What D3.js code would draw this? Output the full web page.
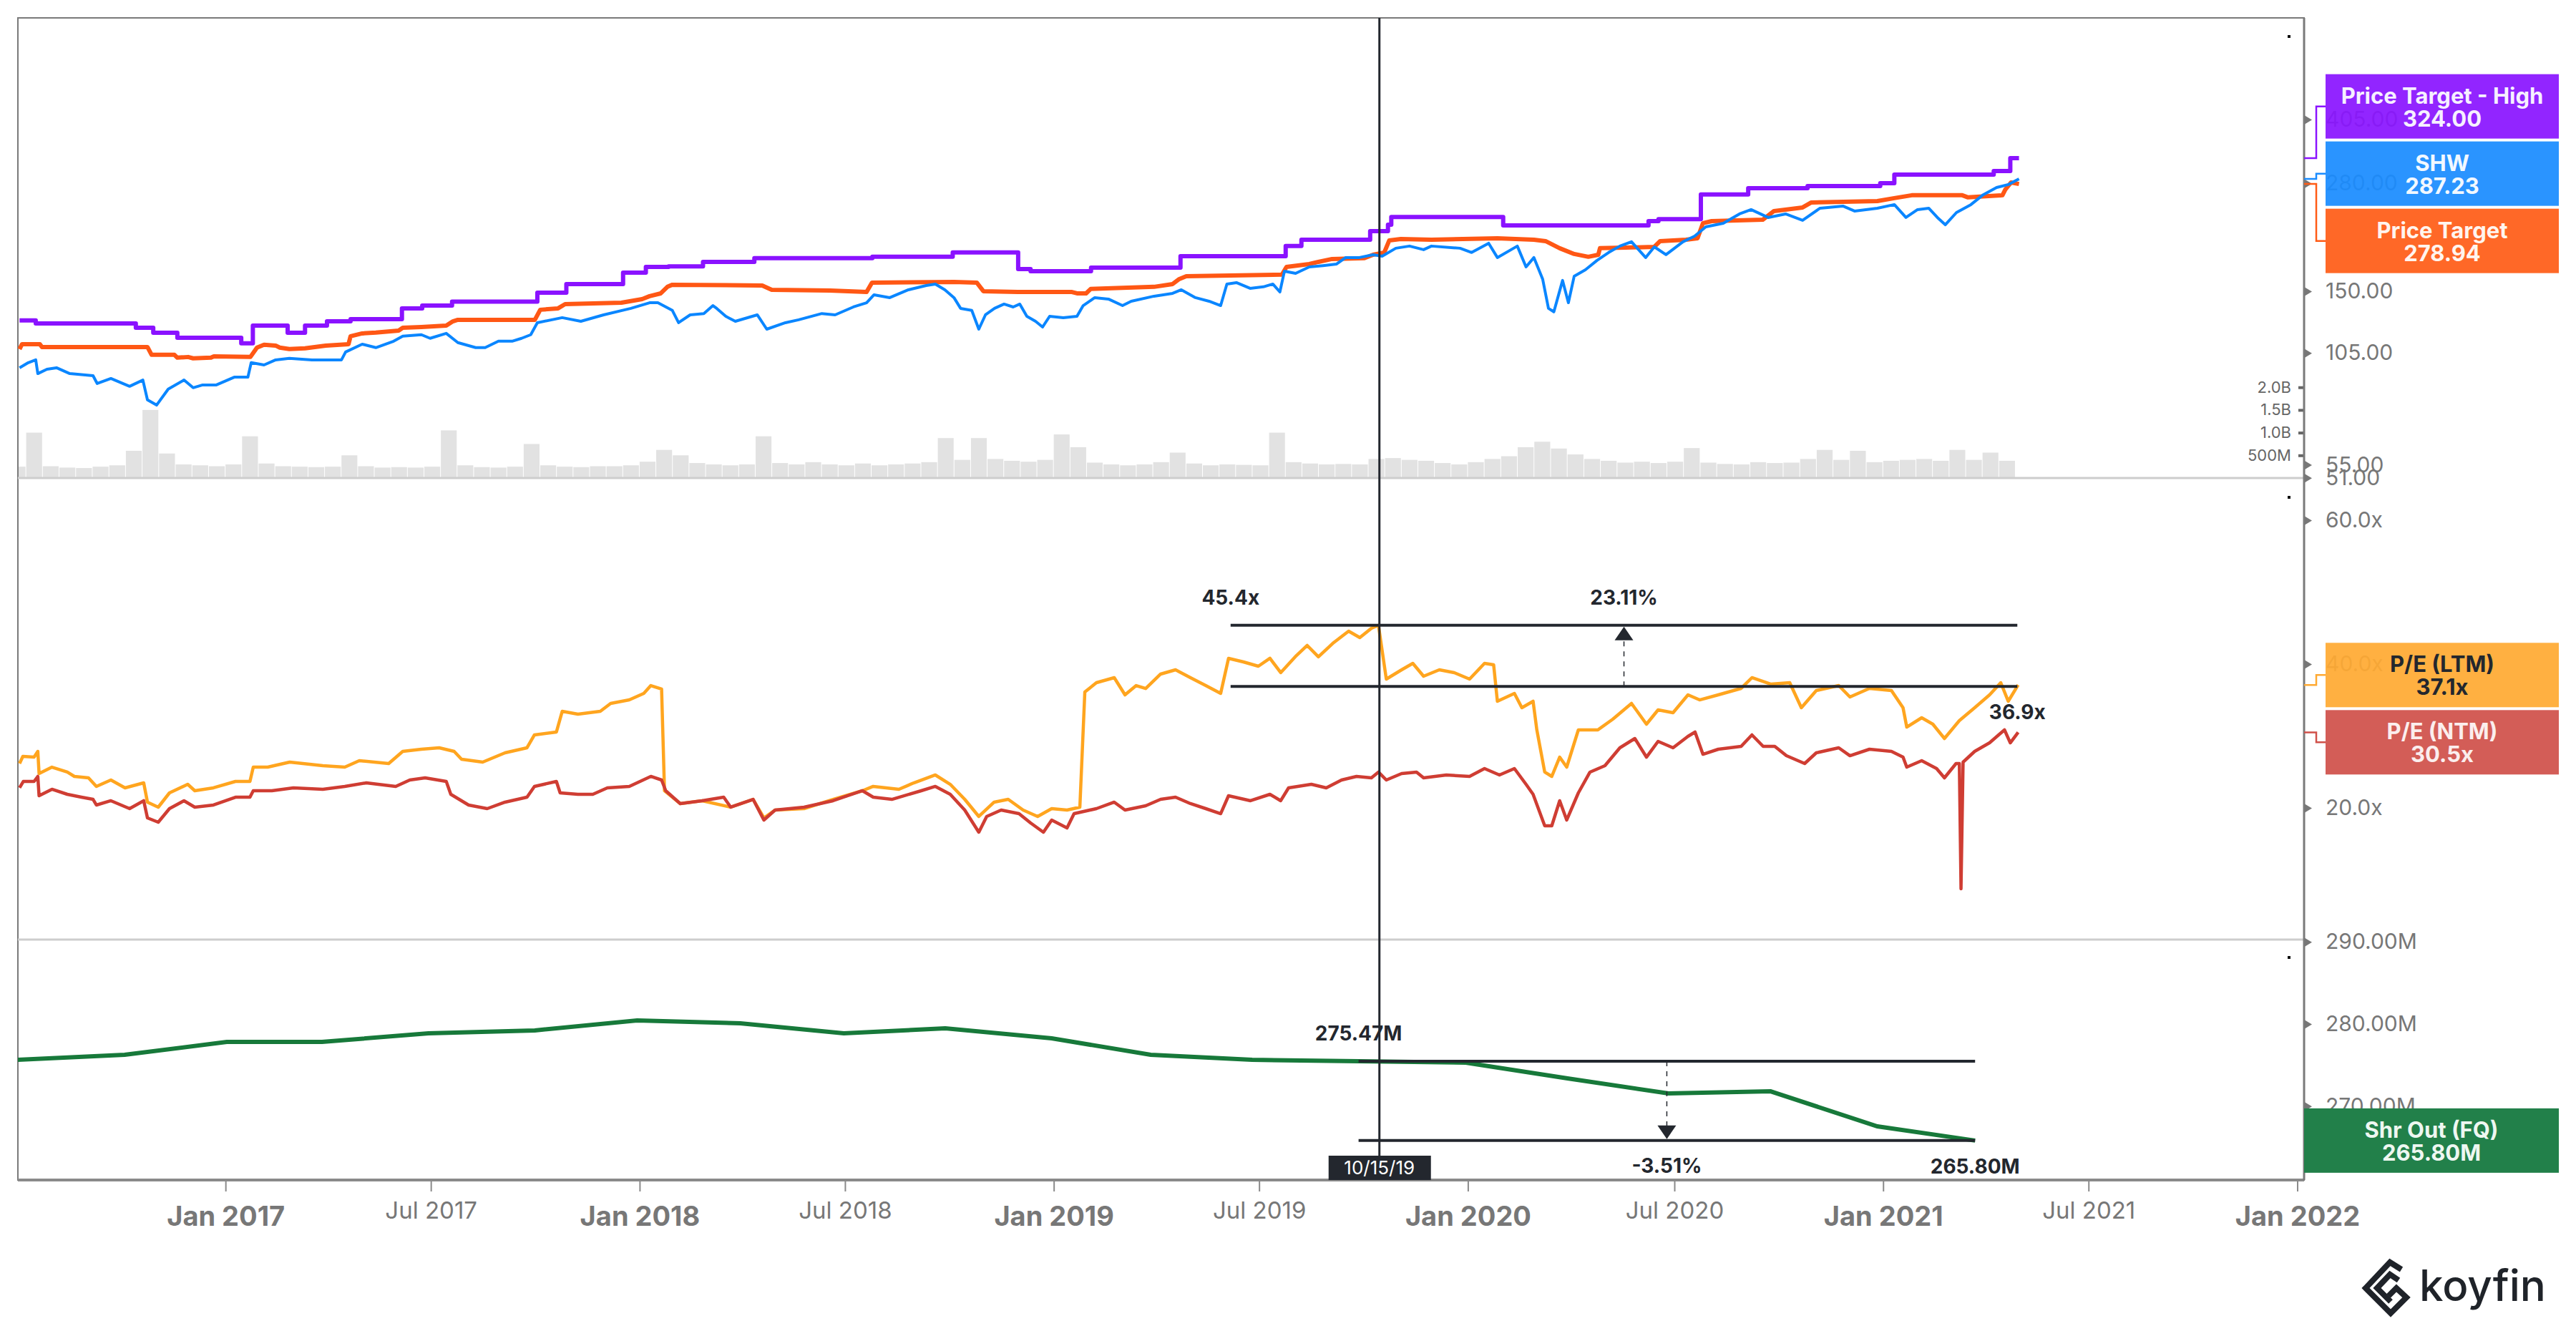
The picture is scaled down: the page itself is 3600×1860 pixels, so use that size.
<!DOCTYPE html>
<html><head><meta charset="utf-8">
<script src="https://cdn.jsdelivr.net/npm/d3@7"></script>
<style>html,body{margin:0;padding:0;background:#fff;}svg{display:block;font-family:Inter,"Noto Sans",sans-serif;}</style>
</head><body><svg id="c" width="3600" height="1860"></svg>
<script>
// ---------------- DATA (dates as decimal years) ----------------
const shwPrice = [[2016.504,96.4],[2016.525,99.3],[2016.543,100.9],[2016.548,93.2],[2016.570,95.6],[2016.593,96.4],[2016.625,93.2],[2016.681,92.1],[2016.691,88.0],[2016.724,90.6],[2016.769,86.6],[2016.801,89.8],[2016.812,80.1],[2016.834,77.7],[2016.862,85.2],[2016.900,89.8],[2016.922,85.9],[2016.945,87.3],[2016.978,87.3],[2017.021,91.3],[2017.054,91.3],[2017.062,99.3],[2017.093,98.0],[2017.121,100.9],[2017.154,101.8],[2017.209,100.9],[2017.252,100.9],[2017.280,100.9],[2017.290,105.6],[2017.330,110.5],[2017.363,108.3],[2017.406,112.4],[2017.428,115.7],[2017.473,116.7],[2017.494,114.3],[2017.533,117.6],[2017.561,111.5],[2017.604,108.3],[2017.627,108.3],[2017.659,112.4],[2017.692,112.4],[2017.715,114.3],[2017.737,116.7],[2017.753,125.1],[2017.813,128.8],[2017.858,126.1],[2017.913,130.9],[2017.979,135.9],[2018.024,140.4],[2018.044,140.4],[2018.079,134.3],[2018.094,125.1],[2018.122,130.9],[2018.155,131.9],[2018.177,138.1],[2018.186,135.9],[2018.208,129.8],[2018.231,126.1],[2018.284,130.9],[2018.307,120.5],[2018.352,125.1],[2018.384,127.2],[2018.440,131.9],[2018.472,130.9],[2018.516,137.0],[2018.548,140.4],[2018.566,147.0],[2018.604,144.6],[2018.649,151.3],[2018.692,155.1],[2018.714,156.4],[2018.737,151.3],[2018.759,144.6],[2018.775,135.9],[2018.802,134.3],[2018.819,120.5],[2018.835,130.9],[2018.857,135.9],[2018.880,139.3],[2018.902,137.0],[2018.918,139.3],[2018.935,129.8],[2018.956,126.1],[2018.973,122.0],[2018.990,129.8],[2019.023,128.8],[2019.056,129.8],[2019.071,138.1],[2019.099,144.6],[2019.132,143.4],[2019.166,138.1],[2019.187,141.6],[2019.242,145.8],[2019.287,148.2],[2019.308,151.3],[2019.342,144.6],[2019.375,141.6],[2019.403,138.1],[2019.418,156.4],[2019.441,157.7],[2019.474,152.6],[2019.506,153.9],[2019.529,156.4],[2019.546,149.4],[2019.557,168.5],[2019.584,166.4],[2019.617,172.7],[2019.650,174.0],[2019.683,175.6],[2019.705,182.3],[2019.738,182.3],[2019.771,185.3],[2019.793,183.8],[2019.826,192.4],[2019.859,194.8],[2019.893,190.8],[2019.912,194.8],[2019.981,192.4],[2020.009,187.7],[2020.050,198.0],[2020.071,182.3],[2020.119,194.8],[2020.140,172.7],[2020.159,182.3],[2020.180,161.0],[2020.194,135.9],[2020.207,133.2],[2020.228,159.7],[2020.242,140.4],[2020.256,163.7],[2020.283,169.9],[2020.311,179.3],[2020.339,187.7],[2020.366,194.8],[2020.394,199.7],[2020.428,182.3],[2020.449,193.9],[2020.477,185.3],[2020.518,199.7],[2020.546,206.3],[2020.573,217.7],[2020.615,222.2],[2020.654,234.6],[2020.682,240.5],[2020.723,229.8],[2020.765,234.6],[2020.806,226.0],[2020.848,242.5],[2020.903,245.5],[2020.931,238.5],[2020.986,242.5],[2021.027,247.6],[2021.055,229.8],[2021.083,240.5],[2021.110,242.5],[2021.131,229.8],[2021.150,220.4],[2021.177,236.5],[2021.212,247.6],[2021.240,261.3],[2021.274,273.3],[2021.302,278.0],[2021.328,287.23]];

const priceTarget = [[2016.504,107.4],[2016.510,110.5],[2016.553,110.5],[2016.558,108.7],[2016.812,108.7],[2016.822,103.9],[2016.877,103.9],[2016.884,102.2],[2016.910,102.6],[2016.922,101.8],[2016.965,102.2],[2016.972,103.0],[2017.060,102.6],[2017.076,108.3],[2017.093,110.1],[2017.121,109.6],[2017.131,108.3],[2017.154,107.4],[2017.192,107.9],[2017.242,109.6],[2017.297,110.5],[2017.302,115.7],[2017.330,117.6],[2017.363,118.1],[2017.418,119.5],[2017.428,121.5],[2017.473,122.0],[2017.533,123.0],[2017.549,126.1],[2017.561,127.2],[2017.747,127.2],[2017.760,134.8],[2017.803,135.9],[2017.820,139.3],[2017.956,140.4],[2018.006,143.4],[2018.024,145.8],[2018.051,148.2],[2018.067,153.9],[2018.079,155.8],[2018.296,155.1],[2018.319,151.3],[2018.460,150.7],[2018.548,149.4],[2018.561,157.7],[2018.759,158.3],[2018.814,157.7],[2018.830,150.1],[2018.913,149.4],[2019.044,149.4],[2019.056,148.2],[2019.078,148.2],[2019.089,152.0],[2019.242,153.9],[2019.287,156.4],[2019.303,161.0],[2019.320,163.7],[2019.551,165.1],[2019.562,172.7],[2019.617,175.6],[2019.639,177.8],[2019.672,180.8],[2019.750,181.6],[2019.771,185.3],[2019.798,187.7],[2019.810,201.2],[2019.838,202.9],[2019.912,202.1],[2020.071,203.7],[2020.159,202.1],[2020.187,200.5],[2020.221,192.4],[2020.256,186.1],[2020.290,183.1],[2020.314,185.3],[2020.318,192.4],[2020.380,193.1],[2020.449,193.9],[2020.463,200.5],[2020.525,202.1],[2020.553,203.7],[2020.566,222.3],[2020.587,225.0],[2020.710,226.8],[2020.737,238.5],[2020.806,243.5],[2020.827,250.7],[2020.986,252.7],[2021.027,257.0],[2021.069,261.3],[2021.191,261.3],[2021.205,258.1],[2021.233,259.2],[2021.288,261.3],[2021.295,270.0],[2021.309,281.4],[2021.328,278.94]];

const priceTargetHigh = [[2016.504,126.7],[2016.543,124.6],[2016.784,121.5],[2016.826,118.0],[2016.884,114.7],[2017.038,111.0],[2017.066,123.0],[2017.150,118.0],[2017.192,123.0],[2017.245,126.1],[2017.302,127.7],[2017.426,135.9],[2017.475,138.1],[2017.547,141.3],[2017.753,148.8],[2017.823,156.4],[2017.960,167.1],[2018.015,172.7],[2018.070,173.3],[2018.153,177.8],[2018.277,181.6],[2018.562,183.1],[2018.756,187.7],[2018.914,170.6],[2018.944,168.5],[2019.090,172.0],[2019.306,183.8],[2019.560,194.8],[2019.598,202.1],[2019.764,212.4],[2019.807,220.4],[2019.815,230.4],[2020.085,219.6],[2020.435,225.0],[2020.459,227.7],[2020.561,262.4],[2020.675,272.2],[2020.818,275.6],[2020.993,280.3],[2021.027,294.5],[2021.267,300.6],[2021.307,324.0],[2021.328,324.0]];

const volumeM = [[2016.50,250],[2016.54,1000],[2016.58,260],[2016.62,230],[2016.66,220],[2016.70,250],[2016.74,280],[2016.78,600],[2016.82,1500],[2016.86,540],[2016.90,300],[2016.94,280],[2016.98,260],[2017.02,300],[2017.06,920],[2017.10,320],[2017.14,260],[2017.18,250],[2017.22,240],[2017.26,250],[2017.30,500],[2017.34,260],[2017.38,230],[2017.42,240],[2017.46,230],[2017.50,250],[2017.54,1050],[2017.58,280],[2017.62,240],[2017.66,230],[2017.70,250],[2017.74,750],[2017.78,280],[2017.82,250],[2017.86,240],[2017.90,260],[2017.94,260],[2017.98,280],[2018.02,360],[2018.06,620],[2018.10,500],[2018.14,330],[2018.18,300],[2018.22,280],[2018.26,300],[2018.30,920],[2018.34,330],[2018.38,300],[2018.42,350],[2018.46,300],[2018.50,280],[2018.54,320],[2018.58,280],[2018.62,300],[2018.66,320],[2018.70,350],[2018.74,880],[2018.78,400],[2018.82,880],[2018.86,420],[2018.90,380],[2018.94,360],[2018.98,400],[2019.02,960],[2019.06,680],[2019.10,340],[2019.14,300],[2019.18,280],[2019.22,300],[2019.26,350],[2019.30,560],[2019.34,320],[2019.38,280],[2019.42,300],[2019.46,290],[2019.50,280],[2019.54,1000],[2019.58,350],[2019.62,320],[2019.66,300],[2019.70,310],[2019.74,300],[2019.78,420],[2019.82,440],[2019.86,400],[2019.90,380],[2019.94,330],[2019.98,300],[2020.02,350],[2020.06,420],[2020.10,480],[2020.14,680],[2020.18,800],[2020.22,650],[2020.26,520],[2020.30,420],[2020.34,380],[2020.38,340],[2020.42,360],[2020.46,330],[2020.50,360],[2020.54,660],[2020.58,340],[2020.62,310],[2020.66,300],[2020.70,350],[2020.74,330],[2020.78,340],[2020.82,420],[2020.86,620],[2020.90,400],[2020.94,600],[2020.98,350],[2021.02,380],[2021.06,400],[2021.10,420],[2021.14,380],[2021.18,620],[2021.22,400],[2021.26,560],[2021.30,380]];

const peLTM = [[2016.504,26.17],[2016.512,27.16],[2016.539,27.06],[2016.548,27.86],[2016.551,24.78],[2016.582,25.67],[2016.619,24.98],[2016.636,24.38],[2016.670,24.18],[2016.689,22.99],[2016.724,23.88],[2016.758,22.79],[2016.803,23.48],[2016.812,20.80],[2016.838,20.10],[2016.865,22.09],[2016.909,23.28],[2016.926,22.39],[2016.971,22.79],[2017.024,23.68],[2017.059,23.68],[2017.067,25.67],[2017.102,25.67],[2017.155,26.37],[2017.235,25.87],[2017.288,25.67],[2017.323,26.57],[2017.394,26.17],[2017.428,27.86],[2017.473,28.16],[2017.516,28.36],[2017.552,27.86],[2017.570,26.77],[2017.621,26.37],[2017.675,27.66],[2017.728,28.36],[2017.746,30.15],[2017.799,30.55],[2017.813,33.43],[2017.851,33.03],[2017.905,33.43],[2017.930,34.53],[2017.975,35.02],[2018.010,35.92],[2018.027,37.01],[2018.053,36.52],[2018.060,22.39],[2018.098,20.60],[2018.151,21.00],[2018.220,20.10],[2018.274,21.19],[2018.300,18.61],[2018.327,19.70],[2018.397,19.90],[2018.467,21.19],[2018.538,22.39],[2018.564,22.99],[2018.626,22.59],[2018.662,23.48],[2018.714,24.58],[2018.750,23.28],[2018.785,21.19],[2018.819,18.81],[2018.856,20.80],[2018.890,21.19],[2018.926,19.70],[2018.961,18.81],[2018.995,19.90],[2019.032,19.70],[2019.063,20.10],[2019.075,36.12],[2019.103,37.41],[2019.146,38.11],[2019.172,35.72],[2019.199,37.01],[2019.222,36.6],[2019.258,38.61],[2019.294,39.20],[2019.330,38.11],[2019.367,37.01],[2019.403,35.92],[2019.422,40.80],[2019.458,40.30],[2019.494,39.70],[2019.522,40.80],[2019.548,38.81],[2019.586,41.19],[2019.612,42.59],[2019.639,41.00],[2019.676,42.99],[2019.712,44.58],[2019.739,43.68],[2019.767,44.98],[2019.784,45.4],[2019.803,37.91],[2019.840,39.20],[2019.867,40.10],[2019.893,38.31],[2019.931,39.20],[2019.967,38.81],[2020.004,37.91],[2020.040,40.10],[2020.062,39.90],[2020.071,34.83],[2020.112,35.92],[2020.130,33.93],[2020.157,34.83],[2020.166,30.85],[2020.185,24.98],[2020.202,24.38],[2020.221,27.06],[2020.238,25.67],[2020.266,30.85],[2020.313,30.85],[2020.349,32.34],[2020.394,34.53],[2020.430,31.64],[2020.458,33.63],[2020.494,33.23],[2020.530,35.72],[2020.558,35.02],[2020.603,35.72],[2020.658,36.62],[2020.684,38.11],[2020.730,37.21],[2020.775,37.41],[2020.803,33.93],[2020.839,36.32],[2020.893,37.01],[2020.920,35.42],[2020.967,36.62],[2021.020,36.32],[2021.048,33.93],[2021.057,31.24],[2021.093,32.54],[2021.120,31.64],[2021.148,29.65],[2021.184,32.14],[2021.221,33.93],[2021.257,35.72],[2021.284,37.41],[2021.302,34.83],[2021.326,37.1]];

const peNTM = [[2016.504,22.79],[2016.513,23.68],[2016.539,23.68],[2016.548,24.38],[2016.551,21.69],[2016.582,22.59],[2016.619,21.89],[2016.653,21.49],[2016.681,21.19],[2016.689,20.40],[2016.724,21.00],[2016.769,19.90],[2016.803,21.00],[2016.812,18.61],[2016.838,18.01],[2016.865,19.90],[2016.900,21.00],[2016.926,20.10],[2016.971,20.40],[2017.024,21.49],[2017.059,21.49],[2017.067,22.39],[2017.112,22.39],[2017.164,22.79],[2017.235,22.59],[2017.288,22.99],[2017.340,23.48],[2017.411,22.99],[2017.445,23.88],[2017.482,24.18],[2017.533,23.68],[2017.544,21.89],[2017.587,20.40],[2017.632,19.90],[2017.675,20.80],[2017.728,21.49],[2017.746,22.99],[2017.799,23.68],[2017.808,22.09],[2017.851,21.89],[2017.887,21.89],[2017.922,22.79],[2017.975,22.99],[2018.027,24.38],[2018.053,23.88],[2018.063,22.39],[2018.098,20.60],[2018.151,21.00],[2018.203,21.49],[2018.220,20.10],[2018.274,21.19],[2018.300,18.31],[2018.327,19.70],[2018.397,20.10],[2018.467,21.00],[2018.538,22.39],[2018.564,21.49],[2018.609,21.19],[2018.680,22.39],[2018.714,22.99],[2018.750,21.89],[2018.785,19.70],[2018.819,16.62],[2018.838,18.81],[2018.873,19.70],[2018.916,19.20],[2018.944,17.91],[2018.975,16.62],[2018.995,18.31],[2019.032,17.21],[2019.049,19.20],[2019.103,19.90],[2019.146,20.80],[2019.172,19.70],[2019.222,20.30],[2019.258,21.19],[2019.294,21.49],[2019.330,20.60],[2019.367,19.90],[2019.403,19.20],[2019.422,21.69],[2019.475,21.00],[2019.522,21.89],[2019.548,21.00],[2019.567,22.79],[2019.622,23.28],[2019.658,22.79],[2019.695,23.88],[2019.731,24.38],[2019.767,24.18],[2019.784,24.98],[2019.803,23.88],[2019.840,24.78],[2019.876,24.98],[2019.893,24.18],[2019.948,24.58],[2020.004,24.38],[2020.040,25.47],[2020.076,24.58],[2020.112,25.47],[2020.140,23.28],[2020.157,21.89],[2020.185,17.51],[2020.202,17.51],[2020.221,21.00],[2020.238,18.31],[2020.266,22.09],[2020.294,24.98],[2020.330,25.87],[2020.366,28.36],[2020.402,29.65],[2020.430,27.06],[2020.458,29.25],[2020.494,28.36],[2020.530,29.95],[2020.547,30.55],[2020.566,27.46],[2020.603,28.16],[2020.658,28.56],[2020.684,30.15],[2020.711,28.56],[2020.739,28.56],[2020.767,27.26],[2020.811,26.17],[2020.839,27.66],[2020.893,28.36],[2020.920,27.26],[2020.967,28.16],[2021.020,27.86],[2021.048,27.06],[2021.057,25.67],[2021.093,26.57],[2021.129,25.47],[2021.148,24.18],[2021.176,26.17],[2021.184,26.17],[2021.188,8.76],[2021.193,26.37],[2021.221,27.86],[2021.257,29.05],[2021.293,30.85],[2021.307,29.05],[2021.326,30.5]];

const sharesOut = [[2016.499,275.64],[2016.757,276.25],[2017.003,277.82],[2017.233,277.82],[2017.490,278.87],[2017.747,279.22],[2017.994,280.44],[2018.243,280.09],[2018.493,278.87],[2018.738,279.48],[2018.995,278.26],[2019.234,276.25],[2019.479,275.64],[2019.736,275.47],[2019.995,275.29],[2020.240,273.37],[2020.483,271.54],[2020.729,271.80],[2020.986,267.53],[2021.222,265.80]];

const xTickDates = ["2017-01-01","2017-07-01","2018-01-01","2018-07-01","2019-01-01","2019-07-01","2020-01-01","2020-07-01","2021-01-01","2021-07-01","2022-01-01"];
const xTickLabels = ["Jan 2017","Jul 2017","Jan 2018","Jul 2018","Jan 2019","Jul 2019","Jan 2020","Jul 2020","Jan 2021","Jul 2021","Jan 2022"];
const priceTicks = [405, 280, 150, 105, 55, 51];
const volTicks = [500, 1000, 1500, 2000];
const volTickLabels = ["500M", "1.0B", "1.5B", "2.0B"];
const peTicks = [60, 40, 20];
const shrTicks = [290, 280, 270];

const crosshairDate = "2019-10-15";
const crosshairLabel = "10/15/19";
const peMeasureDates = [2019.427, 2021.324];
const peMeasureValues = [45.4, 36.9];
const peMeasureLabels = ["45.4x", "23.11%", "36.9x"];
const shrMeasureDates = [2019.736, 2021.222];
const shrMeasureValues = [275.47, 265.80];
const shrMeasureLabels = ["275.47M", "-3.51%", "265.80M"];

// ---------------- LAYOUT ----------------
const L = 25, R = 3220, T = 25, B = 1649;
const P1 = 668, P2 = 1313;
const DARK = "#23272e", AX = "#777";
const svg = d3.select("#c");
const toDate = t => { const y = Math.floor(t); const a = Date.UTC(y,0,1), b = Date.UTC(y+1,0,1); return new Date(a + (t-y)*(b-a)); };
const x = d3.scaleUtc().domain([new Date(Date.UTC(2016,6,2)), new Date(Date.UTC(2022,0,7))]).range([L, R]);
const yPrice = d3.scaleLog().domain([50.97, 728.5]).range([P1, T]);
const yVol = d3.scaleLinear().domain([0, 2000]).range([P1, P1 - 126.8]);
const yPE = d3.scaleLinear().domain([1.692, 65.87]).range([P2, P1]);
const yShr = d3.scaleLinear().domain([261.08, 290.29]).range([B - 1, P2]);

const defs = svg.append("defs");
[["c1", T, P1], ["c2", P1, P2], ["c3", P2, B]].forEach(([id, a, b]) => {
  defs.append("clipPath").attr("id", id).append("rect").attr("x", L).attr("y", a).attr("width", R - L).attr("height", b - a);
});

// volume bars
const gVol = svg.append("g").attr("clip-path", "url(#c1)");
gVol.selectAll("rect").data(volumeM).join("rect")
  .attr("x", d => { const w = x(toDate(d[0] + 0.04)) - x(toDate(d[0])); return x(toDate(d[0])) - w / 2; })
  .attr("width", d => (x(toDate(d[0] + 0.04)) - x(toDate(d[0]))) - 1)
  .attr("y", d => yVol(d[1])).attr("height", d => P1 - yVol(d[1]))
  .attr("fill", "#e2e2e2");

// frame and dividers
svg.append("rect").attr("x", L).attr("y", T).attr("width", R - L).attr("height", B - T).attr("fill", "none").attr("stroke", "#7a7a7a").attr("stroke-width", 2);
[P1, P2].forEach(yy => svg.append("line").attr("x1", L).attr("x2", R).attr("y1", yy).attr("y2", yy).attr("stroke", "#cdcdcd").attr("stroke-width", 3));
svg.append("line").attr("x1", L).attr("x2", R).attr("y1", B).attr("y2", B).attr("stroke", "#8a8a8a").attr("stroke-width", 4);

// lines
const line = (ys, curve) => d3.line().x(d => x(toDate(d[0]))).y(d => ys(d[1])).curve(curve || d3.curveLinear);
const g1 = svg.append("g").attr("clip-path", "url(#c1)").attr("fill", "none").attr("stroke-linejoin", "round");
g1.append("path").attr("d", line(yPrice, d3.curveStepAfter)(priceTargetHigh)).attr("stroke", "#8a12ff").attr("stroke-width", 6);
g1.append("path").attr("d", line(yPrice)(priceTarget)).attr("stroke", "#ff5714").attr("stroke-width", 6);
g1.append("path").attr("d", line(yPrice)(shwPrice)).attr("stroke", "#0a86ff").attr("stroke-width", 4);

const g2 = svg.append("g").attr("clip-path", "url(#c2)").attr("fill", "none").attr("stroke-linejoin", "round");
g2.append("path").attr("d", line(yPE)(peLTM)).attr("stroke", "#ffa51f").attr("stroke-width", 4.5);
g2.append("path").attr("d", line(yPE)(peNTM)).attr("stroke", "#cf3d33").attr("stroke-width", 4.5);

const g3 = svg.append("g").attr("clip-path", "url(#c3)").attr("fill", "none");
g3.append("path").attr("d", line(yShr)(sharesOut)).attr("stroke", "#17793a").attr("stroke-width", 6);

// x axis
const gx = svg.append("g").attr("transform", `translate(0,${B + 1})`)
  .call(d3.axisBottom(x).tickValues(xTickDates.map(s => new Date(s + "T00:00:00Z"))).tickSize(15).tickFormat((d, i) => xTickLabels[i]));
gx.attr("font-family", null).attr("font-size", null);
gx.select(".domain").remove();
gx.selectAll(".tick line").attr("stroke", "#8a8a8a").attr("stroke-width", 2);
gx.selectAll(".tick text").attr("dy", null).each(function (d, i) {
  const jan = xTickLabels[i].startsWith("Jan");
  d3.select(this).attr("y", jan ? 63 : 53).attr("font-size", jan ? 38 : 33).attr("font-weight", jan ? 700 : 400).attr("fill", AX);
});

// right axes
function rightAxis(scale, ticks, fmt) {
  const g = svg.append("g").attr("transform", `translate(${R},0)`)
    .call(d3.axisRight(scale).tickValues(ticks).tickSize(0).tickPadding(30).tickFormat(fmt));
  g.attr("font-family", null).attr("font-size", null);
  g.select(".domain").remove();
  g.selectAll(".tick text").attr("font-size", 30).attr("fill", AX);
  g.selectAll(".tick").append("path").attr("d", "M1,-6L11,0L1,6Z").attr("fill", AX);
  return g;
}
rightAxis(yPrice, priceTicks, d3.format(".2f"));
rightAxis(yPE, peTicks, d => d.toFixed(1) + "x");
rightAxis(yShr, shrTicks, d => d.toFixed(2) + "M");
const gv = svg.append("g").attr("transform", `translate(${R},0)`)
  .call(d3.axisLeft(yVol).tickValues(volTicks).tickSize(8).tickPadding(10).tickFormat((d, i) => volTickLabels[i]));
gv.attr("font-family", null).attr("font-size", null);
gv.select(".domain").remove();
gv.selectAll(".tick line").attr("stroke", "#666").attr("stroke-width", 4);
gv.selectAll(".tick text").attr("font-size", 22).attr("fill", "#666");
svg.append("line").attr("x1", R).attr("x2", R).attr("y1", T).attr("y2", B).attr("stroke", "#7a7a7a").attr("stroke-width", 3);

// small dots at panel top-right
[T + 24, P1 + 25, P2 + 23].forEach(yy => svg.append("rect").attr("x", 3197).attr("y", yy).attr("width", 4).attr("height", 4).attr("fill", "#111"));

// value label boxes
function boxes(items, h, gap, x0, x1, opacity) {
  const mean = d3.mean(items, d => d.vy);
  const sorted = items.slice().sort((a, b) => a.vy - b.vy);
  const n = sorted.length;
  sorted.forEach((d, i) => {
    const c = mean + (i - (n - 1) / 2) * (h + gap);
    if (x0 > R) svg.append("path").attr("d", `M${R},${d.vy}H3237V${c}H${x0}`).attr("fill", "none").attr("stroke", d.color).attr("stroke-width", 2.5);
    svg.append("rect").attr("x", x0).attr("y", c - h / 2).attr("width", x1 - x0).attr("height", h).attr("fill", d.color).attr("fill-opacity", opacity);
    const cx = (x0 + x1) / 2;
    svg.append("text").attr("x", cx).attr("y", c - 4).attr("text-anchor", "middle").attr("font-size", 31).attr("font-weight", 700).attr("fill", d.text).text(d.name);
    svg.append("text").attr("x", cx).attr("y", c + 28).attr("text-anchor", "middle").attr("font-size", 31).attr("font-weight", 700).attr("fill", d.text).text(d.value);
  });
}
const last = a => a[a.length - 1][1];
boxes([
  { name: "Price Target - High", value: last(priceTargetHigh).toFixed(2), vy: yPrice(last(priceTargetHigh)), color: "#8a14ff", text: "#f6f0ff" },
  { name: "SHW", value: last(shwPrice).toFixed(2), vy: yPrice(last(shwPrice)), color: "#1a8cff", text: "#f2f8ff" },
  { name: "Price Target", value: last(priceTarget).toFixed(2), vy: yPrice(last(priceTarget)), color: "#ff5c17", text: "#fff5ef" }
], 90, 4, 3250, 3576, 0.93);
boxes([
  { name: "P/E (LTM)", value: last(peLTM).toFixed(1) + "x", vy: yPE(last(peLTM)), color: "#ffaa33", text: "#23272e" },
  { name: "P/E (NTM)", value: last(peNTM).toFixed(1) + "x", vy: yPE(last(peNTM)), color: "#d0514a", text: "#fbeeee" }
], 90, 4, 3250, 3576, 0.93);
boxes([
  { name: "Shr Out (FQ)", value: last(sharesOut).toFixed(2) + "M", vy: yShr(last(sharesOut)), color: "#22804a", text: "#eef7f1" }
], 90, 0, R, 3576, 1);

// crosshair
const cx = x(new Date(crosshairDate + "T00:00:00Z"));
svg.append("line").attr("x1", cx).attr("x2", cx).attr("y1", T).attr("y2", B).attr("stroke", DARK).attr("stroke-width", 3);
svg.append("rect").attr("x", cx - 71).attr("y", B - 34).attr("width", 143).attr("height", 34).attr("fill", DARK);
svg.append("text").attr("x", cx).attr("y", B - 8).attr("text-anchor", "middle").attr("font-size", 26).attr("fill", "#fff").text(crosshairLabel);

// measure annotations
function measure(ys, dates, vals, labels, up) {
  const x0 = x(toDate(dates[0])), x1 = x(toDate(dates[1])), xm = (x0 + x1) / 2;
  const yA = ys(vals[0]), yB = ys(vals[1]);
  const g = svg.append("g");
  [yA, yB].forEach(yy => g.append("line").attr("x1", x0).attr("x2", x1).attr("y1", yy).attr("y2", yy).attr("stroke", DARK).attr("stroke-width", 4));
  const top = Math.min(yA, yB), bot = Math.max(yA, yB);
  if (up) {
    g.append("line").attr("x1", xm).attr("x2", xm).attr("y1", bot).attr("y2", top + 20).attr("stroke", DARK).attr("stroke-width", 1.5).attr("stroke-dasharray", "7,7");
    g.append("path").attr("d", `M${xm},${top + 2}L${xm - 13},${top + 21}L${xm + 13},${top + 21}Z`).attr("fill", DARK);
  } else {
    g.append("line").attr("x1", xm).attr("x2", xm).attr("y1", top).attr("y2", bot - 20).attr("stroke", DARK).attr("stroke-width", 1.5).attr("stroke-dasharray", "7,7");
    g.append("path").attr("d", `M${xm},${bot - 2}L${xm - 13},${bot - 21}L${xm + 13},${bot - 21}Z`).attr("fill", DARK);
  }
  const t = (xx, yy, s) => g.append("text").attr("x", xx).attr("y", yy).attr("text-anchor", "middle").attr("font-size", 28).attr("font-weight", 700).attr("fill", DARK).text(s);
  t(x0, yA - 29, labels[0]);
  if (up) t(xm, top - 29, labels[1]); else t(xm, bot + 45, labels[1]);
  t(x1, yB + 46, labels[2]);
}
measure(yPE, peMeasureDates, peMeasureValues, peMeasureLabels, true);
measure(yShr, shrMeasureDates, shrMeasureValues, shrMeasureLabels, false);

// koyfin logo
const lg = svg.append("g").attr("fill", "none").attr("stroke", "#1f2329").attr("stroke-width", 8).attr("stroke-linejoin", "miter");
lg.append("path").attr("d", "M3356,1774L3340,1764L3306,1800L3341,1835L3363,1813L3349,1800L3338,1811");
lg.append("path").attr("d", "M3352,1789L3340,1781L3322,1800L3341,1819");
svg.append("text").attr("x", 3381).attr("y", 1818).attr("font-size", 60).attr("font-weight", 500).attr("fill", "#1f2329").text("koyfin");
</script></body></html>
